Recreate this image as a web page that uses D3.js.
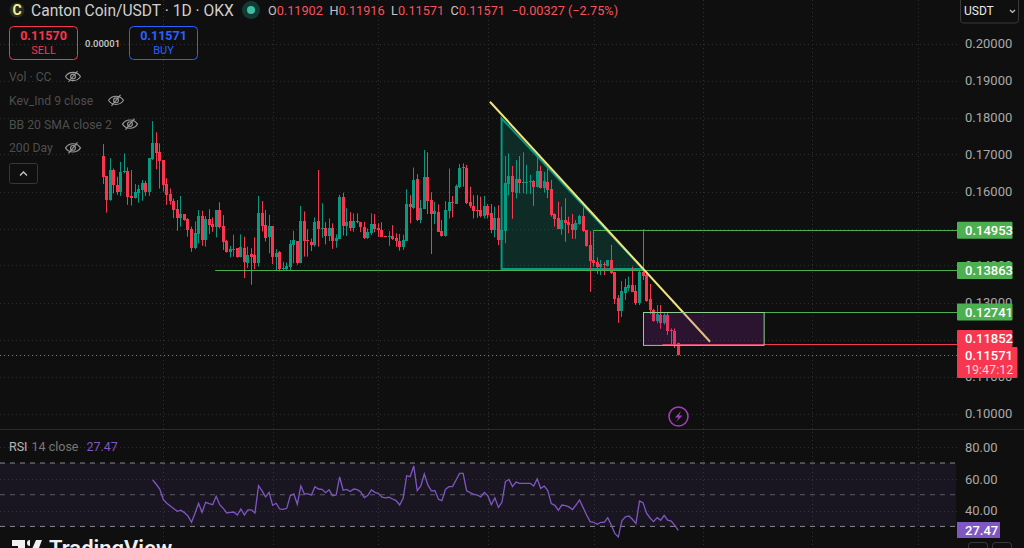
<!DOCTYPE html>
<html>
<head>
<meta charset="utf-8">
<title>Canton Coin/USDT</title>
<script src="https://cdn.jsdelivr.net/npm/d3@7"></script>
<style>
    html, body { margin: 0; padding: 0; background: #0f0f0f; overflow: hidden; }
    svg { display: block; font-family: Roboto, "Liberation Sans", sans-serif; }
</style>
</head>
<body>
<svg id="chart" width="1024" height="548"></svg>
<script>
// Daily candles
const opens = [.1696,.1642,.1577,.1658,.1618,.1597,.1652,.1655,.1588,.1582,.1596,.1604,.1622,.1597,.1688,.1732,.1706,.1685,.1620,.1593,
    .1574,.1553,.1528,.1539,.1526,.1498,.1447,.1485,.1534,.1469,.1526,.1512,.1503,.1550,.1507,.1466,.1437,.1442,.1447,.1423,
    .1447,.1407,.1431,.1429,.1407,.1543,.1510,.1477,.1507,.1423,.1437,.1391,.1391,.1396,.1456,.1466,.1407,.1520,.1469,.1464,
    .1455,.1520,.1499,.1501,.1480,.1501,.1466,.1472,.1586,.1507,.1520,.1501,.1520,.1518,.1504,.1474,.1488,.1512,.1501,.1496,
    .1480,.1477,.1480,.1474,.1466,.1450,.1466,.1566,.1555,.1634,.1523,.1553,.1639,.1577,.1539,.1545,.1493,.1480,.1547,.1572,
    .1566,.1612,.1666,.1663,.1572,.1561,.1550,.1550,.1534,.1561,.1542,.1496,.1528,.1469,.1493,.1620,.1642,.1596,.1634,.1623,
    .1624,.1626,.1628,.1612,.1655,.1610,.1626,.1607,.1539,.1528,.1499,.1523,.1518,.1512,.1496,.1512,.1534,.1496,.1456,.1415,
    .1410,.1396,.1404,.1399,.1415,.1383,.1312,.1277,.1326,.1339,.1347,.1331,.1299,.1383,.1375,.1310,.1280,.1250,.1266,.1245,
    .1266,.1226,.1223,.11902];
const highs = [.1728,.1642,.1690,.1662,.1640,.1680,.1703,.1665,.1658,.1620,.1618,.1631,.1629,.1690,.1790,.1760,.1730,.1685,.1636,.1608,
    .1581,.1577,.1588,.1539,.1528,.1505,.1519,.1550,.1548,.1534,.1552,.1530,.1550,.1571,.1536,.1469,.1453,.1483,.1447,.1484,
    .1478,.1451,.1447,.1476,.1588,.1574,.1550,.1537,.1507,.1444,.1439,.1410,.1408,.1469,.1494,.1466,.1561,.1546,.1498,.1473,
    .1530,.1658,.1568,.1517,.1527,.1514,.1484,.1591,.1597,.1555,.1544,.1541,.1541,.1518,.1518,.1500,.1541,.1539,.1514,.1517,
    .1480,.1493,.1509,.1487,.1485,.1483,.1606,.1590,.1665,.1647,.1577,.1712,.1706,.1598,.1572,.1565,.1523,.1574,.1662,.1588,
    .1619,.1674,.1676,.1672,.1613,.1590,.1590,.1586,.1588,.1566,.1566,.1559,.1563,.1496,.1696,.1703,.1669,.1685,.1696,.1706,
    .1672,.1645,.1631,.1696,.1669,.1653,.1663,.1631,.1541,.1572,.1559,.1582,.1532,.1539,.1523,.1537,.1557,.1496,.1493,.1496,
    .1422,.1415,.1410,.1415,.1456,.1383,.1320,.1358,.1364,.1370,.1397,.1347,.1392,.1498,.1383,.1350,.1283,.1293,.1293,.1271,
    .1274,.1230,.1230,.11916];
const lows = [.1620,.1543,.1575,.1595,.1591,.1588,.1649,.1564,.1562,.1581,.1570,.1575,.1588,.1588,.1685,.1660,.1608,.1600,.1564,.1564,
    .1528,.1494,.1505,.1521,.1478,.1437,.1444,.1460,.1453,.1451,.1485,.1491,.1476,.1500,.1442,.1435,.1422,.1424,.1421,.1422,
    .1366,.1393,.1348,.1390,.1397,.1492,.1465,.1433,.1404,.1385,.1384,.1385,.1385,.1385,.1406,.1402,.1406,.1424,.1424,.1439,
    .1451,.1451,.1475,.1457,.1466,.1445,.1448,.1472,.1481,.1480,.1493,.1491,.1514,.1490,.1472,.1472,.1482,.1490,.1477,.1477,
    .1477,.1453,.1469,.1451,.1440,.1442,.1466,.1514,.1553,.1520,.1514,.1553,.1539,.1431,.1512,.1491,.1478,.1478,.1527,.1530,
    .1566,.1609,.1613,.1566,.1555,.1527,.1529,.1530,.1527,.1527,.1487,.1476,.1455,.1463,.1460,.1590,.1526,.1581,.1595,.1595,
    .1593,.1593,.1561,.1611,.1608,.1597,.1582,.1532,.1505,.1498,.1483,.1464,.1487,.1472,.1472,.1510,.1491,.1451,.1329,.1397,
    .1377,.1374,.1374,.1397,.1377,.1296,.1245,.1261,.1307,.1330,.1328,.1293,.1293,.1361,.1302,.1269,.1248,.1244,.1229,.1240,
    .1212,.1185,.1177,.11571];
const closes = [.1640,.1577,.1658,.1618,.1598,.1652,.1655,.1586,.1583,.1598,.1607,.1622,.1597,.1690,.1732,.1705,.1682,.1618,.1591,.1573,
    .1550,.1528,.1539,.1523,.1496,.1447,.1487,.1534,.1469,.1526,.1510,.1503,.1550,.1503,.1465,.1437,.1445,.1445,.1423,.1450,
    .1408,.1429,.1423,.1407,.1543,.1507,.1476,.1507,.1423,.1434,.1391,.1393,.1399,.1458,.1469,.1407,.1520,.1466,.1466,.1455,
    .1517,.1499,.1501,.1480,.1501,.1466,.1474,.1586,.1507,.1517,.1501,.1520,.1518,.1504,.1474,.1491,.1512,.1499,.1496,.1477,
    .1477,.1480,.1472,.1466,.1450,.1469,.1566,.1559,.1631,.1523,.1555,.1639,.1574,.1539,.1547,.1491,.1480,.1550,.1572,.1569,
    .1615,.1663,.1663,.1569,.1561,.1547,.1547,.1534,.1561,.1537,.1496,.1528,.1469,.1496,.1623,.1642,.1599,.1634,.1623,.1625,
    .1626,.1628,.1612,.1655,.1609,.1628,.1604,.1537,.1526,.1499,.1523,.1515,.1510,.1496,.1515,.1534,.1493,.1453,.1412,.1407,
    .1396,.1404,.1401,.1415,.1380,.1310,.1277,.1331,.1342,.1347,.1329,.1299,.1383,.1372,.1304,.1280,.1250,.1269,.1245,.1266,
    .1223,.1223,.1188,.11571];

// RSI 14, first value belongs to candle rsiFirstBar
const rsiFirstBar = 14;
const rsiValues = [59.3,56.6,53.6,47.1,44.6,42.9,41.2,39.5,40.2,38.7,36.6,32.6,38.3,44.6,38.9,45.2,44.4,43.7,49.0,43.7,
    41.4,38.5,38.9,39.1,37.2,41.0,37.2,40.4,40.4,38.5,55.7,52.4,48.6,51.5,43.3,44.6,41.0,40.8,41.4,49.4,
    50.5,44.0,55.5,50.5,50.5,49.8,55.1,53.6,53.4,51.3,53.2,49.4,49.8,61.2,52.8,53.4,52.0,53.6,53.2,51.7,
    48.2,49.6,53.0,51.5,50.7,48.4,48.0,48.4,47.3,46.3,43.5,47.7,62.0,61.4,68.1,52.6,55.5,63.1,56.2,52.4,
    52.6,47.1,46.3,53.4,55.1,55.1,59.3,63.5,63.5,52.4,51.3,50.3,49.8,48.6,51.5,49.4,43.7,48.0,42.0,45.2,
    58.3,59.7,55.1,58.0,57.2,57.2,57.2,57.2,55.5,60.0,54.0,55.5,52.6,44.4,43.3,40.2,43.5,43.1,42.3,40.6,
    43.5,46.7,42.0,37.2,33.0,32.6,31.3,32.6,32.6,35.5,30.9,25.6,23.3,33.6,36.0,36.6,34.5,31.8,46.0,45.0,
    38.3,35.3,33.0,35.5,33.9,37.0,33.9,33.4,30.7,27.47];

// Axis ticks and labels
const priceTicks = [.10,.11,.12,.13,.14,.15,.16,.17,.18,.19,.20];
const rsiTicks = [40,60,80];
const rsiBands = [70,50,30];
const timeGridBars = [17,48,78,109,139,170,201,231];
const legendNames = ['Vol · CC','Kev_Ind 9 close','BB 20 SMA close 2','200 Day'];
const ohlcLegend = [['O','0.11902'],['H','0.11916'],['L','0.11571'],['C','0.11571']];

// Drawings on the chart: bar index and price
const triangleBars = [112.9,112.9,153];
const trianglePrices = [.1798,.13905,.13905];
const trendBars = [109.6,172];
const trendPrices = [.18427,.1194];
const boxBars = [153,187.2];
const boxPrices = [.12741,.11852];
const levelPrices = [.14953,.13863,.12741,.11852];
const levelStartBars = [139,31.7,187.2,158.5];
const levelColors = ['#4caf50','#4caf50','#4caf50','#f7374f'];
const levelLabels = ['0.14953','0.13863','0.12741','0.11852'];
const lastPrice = .11571;
const lastRsi = 27.47;

const plotRight = 957;
const svg = d3.select('#chart');

const x = d3.scaleLinear().domain([0, 163]).range([103.3, 678.3]);
const y = d3.scaleLinear().domain([.10, .20]).range([413.5, 43.5]);
const yRsi = d3.scaleLinear().domain([80, 30]).range([447.2, 526.4]);

const UP = '#089981';
const DOWN = '#f7374f';
const TICK = '#a9a9a9';

// Grid
const grid = svg.append('g').attr('stroke', '#2e2e2e').attr('stroke-dasharray', '1 3');
grid.selectAll('.tv').data(timeGridBars).enter().append('line')
    .attr('x1', d => Math.round(x(d)) + .5).attr('x2', d => Math.round(x(d)) + .5)
    .attr('y1', 0).attr('y2', 548);
grid.selectAll('.th').data(priceTicks).enter().append('line')
    .attr('x1', 0).attr('x2', plotRight)
    .attr('y1', d => Math.round(y(d)) + .5).attr('y2', d => Math.round(y(d)) + .5);
grid.selectAll('.tr').data(rsiTicks).enter().append('line')
    .attr('x1', 0).attr('x2', plotRight)
    .attr('y1', d => Math.round(yRsi(d)) + .5).attr('y2', d => Math.round(yRsi(d)) + .5);

// Pane separator
svg.append('line').attr('x1', 0).attr('x2', 1024).attr('y1', 429.5).attr('y2', 429.5)
    .attr('stroke', '#2b2b2b');

// Teal triangle goes under the candles
const triangle = triangleBars.map((b, i) => [x(b), y(trianglePrices[i])]);
svg.append('polygon')
    .attr('points', triangle.join(' '))
    .attr('fill', 'rgba(8,153,129,.2)')
    .attr('stroke', UP).attr('stroke-width', 2);

// Candles, snapped to whole pixels so wicks stay sharp
const bars = opens.map((o, i) => ({ i, o, h: highs[i], l: lows[i], c: closes[i] }));
const barColor = d => d.c >= d.o ? UP : DOWN;
const barX = i => Math.floor(x(i));
const candles = svg.append('g').selectAll('g').data(bars).enter().append('g');
candles.append('line')
    .attr('x1', d => barX(d.i) + .5).attr('x2', d => barX(d.i) + .5)
    .attr('y1', d => y(d.h)).attr('y2', d => y(d.l))
    .attr('stroke', barColor);
candles.append('rect')
    .attr('x', d => barX(d.i) - 1)
    .attr('width', 3)
    .attr('y', d => Math.round(y(Math.max(d.o, d.c))))
    .attr('height', d => Math.max(1, Math.round(Math.abs(y(d.o) - y(d.c)))))
    .attr('fill', barColor);

// Levels from the right edge
levelPrices.forEach((p, i) => {
    svg.append('line')
        .attr('x1', x(levelStartBars[i])).attr('x2', plotRight)
        .attr('y1', Math.floor(y(p)) + .5).attr('y2', Math.floor(y(p)) + .5)
        .attr('stroke', levelColors[i]);
});

// Yellow trend line, the box sits over its end
svg.append('line')
    .attr('x1', x(trendBars[0])).attr('y1', y(trendPrices[0]))
    .attr('x2', x(trendBars[1])).attr('y2', y(trendPrices[1]))
    .attr('stroke', '#f4e47a').attr('stroke-width', 2);

// Purple box
svg.append('rect')
    .attr('x', Math.floor(x(boxBars[0])) + .5).attr('width', x(boxBars[1]) - x(boxBars[0]))
    .attr('y', Math.floor(y(boxPrices[0])) + .5).attr('height', y(boxPrices[1]) - y(boxPrices[0]))
    .attr('fill', 'rgba(156,39,176,.2)')
    .attr('stroke', '#8fce8f');

// Last price dotted line
svg.append('line')
    .attr('x1', 0).attr('x2', plotRight)
    .attr('y1', Math.floor(y(lastPrice)) + .5).attr('y2', Math.floor(y(lastPrice)) + .5)
    .attr('stroke', DOWN).attr('stroke-dasharray', '1 3');

// Price axis
const priceAxis = d3.axisRight(y)
    .tickValues(priceTicks)
    .tickSize(0).tickPadding(0)
    .tickFormat(d3.format('.5f'));
const priceG = svg.append('g').attr('transform', 'translate(965,0)').call(priceAxis);
priceG.select('.domain').remove();
priceG.selectAll('text').attr('fill', TICK).attr('font-size', 13).attr('font-family', 'Roboto').attr('x', 0);

// Labels on the price axis
const labelY = [y(levelPrices[0]), y(levelPrices[1]), y(levelPrices[2]), 338.5];
levelLabels.forEach((t, i) => {
    svg.append('rect').attr('x', plotRight).attr('y', labelY[i] - 8.5)
        .attr('width', 55.5).attr('height', 17).attr('rx', 1)
        .attr('fill', levelColors[i]);
    svg.append('text').attr('x', 965).attr('y', labelY[i] + 4.5)
        .attr('fill', '#fff').attr('font-size', 13).attr('font-weight', 500).text(t);
});
svg.append('rect').attr('x', plotRight).attr('y', 347).attr('width', 60.5).attr('height', 31)
    .attr('rx', 1).attr('fill', DOWN);
svg.append('text').attr('x', 965).attr('y', 360)
    .attr('fill', '#fff').attr('font-size', 13).attr('font-weight', 500).text(d3.format('.5f')(lastPrice));
svg.append('text').attr('x', 965).attr('y', 374)
    .attr('fill', '#ffd0d6').attr('font-size', 12.5).text('19:47:12');

// RSI pane
svg.append('rect')
    .attr('x', 0).attr('width', plotRight - 1)
    .attr('y', yRsi(70)).attr('height', yRsi(30) - yRsi(70))
    .attr('fill', 'rgba(126,87,194,.1)');
svg.selectAll('.band').data(rsiBands).enter().append('line')
    .attr('x1', 0).attr('x2', plotRight - 1)
    .attr('y1', d => yRsi(d)).attr('y2', d => yRsi(d))
    .attr('stroke', d => d === 50 ? '#5a5a60' : '#8a8a92')
    .attr('stroke-dasharray', '5 5');

const rsiLine = d3.line()
    .x((d, i) => x(i + rsiFirstBar))
    .y(d => yRsi(d));
svg.append('path').datum(rsiValues)
    .attr('d', rsiLine)
    .attr('fill', 'none').attr('stroke', '#7e57c2').attr('stroke-width', 1.3);

const rsiAxis = d3.axisRight(yRsi)
    .tickValues(rsiTicks)
    .tickSize(0).tickPadding(0)
    .tickFormat(d3.format('.2f'));
const rsiG = svg.append('g').attr('transform', 'translate(965,0)').call(rsiAxis);
rsiG.select('.domain').remove();
rsiG.selectAll('text').attr('fill', TICK).attr('font-size', 13).attr('font-family', 'Roboto').attr('x', 0);

svg.append('rect').attr('x', plotRight).attr('y', 522).attr('width', 43).attr('height', 16)
    .attr('fill', '#7e57c2');
svg.append('text').attr('x', 965).attr('y', 534.5)
    .attr('fill', '#fff').attr('font-size', 13).attr('font-weight', 500).text(lastRsi);

// RSI legend
const rsiLegend = svg.append('text').attr('x', 9).attr('y', 451).attr('font-size', 12.5);
rsiLegend.append('tspan').attr('fill', '#b8b8b8').text('RSI');
rsiLegend.append('tspan').attr('fill', '#777').attr('dx', 4).text('14 close');
rsiLegend.append('tspan').attr('fill', '#7e57c2').attr('dx', 8).text(lastRsi);

// Header
svg.append('circle').attr('cx', 17).attr('cy', 10).attr('r', 7.5).attr('fill', '#2a2a20');
svg.append('text').attr('x', 17).attr('y', 15).attr('text-anchor', 'middle')
    .attr('fill', '#f2f08c').attr('font-size', 14).attr('font-weight', 700).text('C');
svg.append('text').attr('x', 31).attr('y', 16)
    .attr('fill', '#cfcfcf').attr('font-size', 15.6).text('Canton Coin/USDT · 1D · OKX');
svg.append('circle').attr('cx', 251).attr('cy', 10).attr('r', 9).attr('fill', '#123a34');
svg.append('circle').attr('cx', 251).attr('cy', 10).attr('r', 4).attr('fill', '#3dbfa5');

const ohlc = svg.append('text').attr('x', 268).attr('y', 15).attr('font-size', 12.7);
ohlcLegend.forEach((d, i) => {
    ohlc.append('tspan').attr('fill', '#c4c4c4').attr('dx', i ? 6.5 : 0).text(d[0]);
    ohlc.append('tspan').attr('fill', '#f7525f').text(d[1]);
});
ohlc.append('tspan').attr('fill', '#f7525f').attr('dx', 6.5).text('−0.00327 (−2.75%)');

// Sell and buy buttons
const tradeBox = (left, color, price, side) => {
    svg.append('rect').attr('x', left + .5).attr('y', 26.5).attr('width', 68).attr('height', 33).attr('rx', 4)
        .attr('fill', 'none').attr('stroke', color);
    svg.append('text').attr('x', left + 34.5).attr('y', 40).attr('text-anchor', 'middle')
        .attr('fill', color).attr('font-size', 12.5).attr('font-weight', 700).text(price);
    svg.append('text').attr('x', left + 34.5).attr('y', 54).attr('text-anchor', 'middle')
        .attr('fill', color).attr('font-size', 11).text(side);
};
tradeBox(9, '#f7374f', '0.11570', 'SELL');
tradeBox(129, '#2962ff', '0.11571', 'BUY');
svg.append('text').attr('x', 85).attr('y', 46.5).attr('fill', '#c8c8c8')
    .attr('font-size', 9.5).attr('font-weight', 500).text('0.00001');

// Hidden indicators list with crossed eyes
const eyeX = [73, 116, 130, 73];
const eyes = svg.append('g');
legendNames.forEach((name, i) => {
    const ly = 77 + i * 23.8;
    svg.append('text').attr('x', 9).attr('y', ly + 4).attr('fill', '#4e4e4e').attr('font-size', 12.2).text(name);
    const eye = eyes.append('g').attr('transform', `translate(${eyeX[i]},${ly - .5})`)
        .attr('fill', 'none').attr('stroke', '#9a9a9a').attr('stroke-width', 1.1);
    eye.append('path').attr('d', 'M-7.5,0C-4,-5.5 4,-5.5 7.5,0C4,5.5 -4,5.5 -7.5,0Z');
    eye.append('circle').attr('r', 2.4);
    eye.append('line').attr('x1', -4.5).attr('y1', 5.5).attr('x2', 4.5).attr('y2', -5.5);
});

// Collapse button
svg.append('rect').attr('x', 9.5).attr('y', 163.5).attr('width', 28).attr('height', 20).attr('rx', 2)
    .attr('fill', 'none').attr('stroke', '#363636');
svg.append('path').attr('d', 'M20,175.5L23.5,172L27,175.5')
    .attr('fill', 'none').attr('stroke', '#c8c8c8').attr('stroke-width', 1.3);

// Currency selector
svg.append('rect').attr('x', 960.5).attr('y', -4).attr('width', 58).attr('height', 27).attr('rx', 3)
    .attr('fill', 'none').attr('stroke', '#3a3a3a');
svg.append('text').attr('x', 964).attr('y', 15).attr('fill', '#e8e8e8').attr('font-size', 12).text('USDT');
svg.append('path').attr('d', 'M1010,10L1012.5,12.5L1015,10')
    .attr('fill', 'none').attr('stroke', '#c8c8c8').attr('stroke-width', 1.2);

// Lightning badge
svg.append('circle').attr('cx', 678.5).attr('cy', 416.5).attr('r', 9.5)
    .attr('fill', '#0f0f0f').attr('stroke', '#a23fb8').attr('stroke-width', 1.6);
svg.append('path').attr('d', 'M681,411L675,417.5H678.5L676,422L682.5,415.5H679Z').attr('fill', '#a23fb8');

// Scale buttons at the bottom right
svg.append('rect').attr('x', 968.5).attr('y', 542.5).attr('width', 19).attr('height', 12).attr('rx', 3)
    .attr('fill', 'none').attr('stroke', '#3a3a3a');
svg.append('rect').attr('x', 992.5).attr('y', 542.5).attr('width', 19).attr('height', 12).attr('rx', 3)
    .attr('fill', 'none').attr('stroke', '#3a3a3a');

// TradingView mark, cut by the window like in the original
svg.append('path').attr('d', 'M12,540H25V556H18V546H12Z M30,540A3,3 0 1 0 30.01,546Z M36,540H42L36,556H29Z').attr('fill', '#f0f0f0');
svg.append('text').attr('x', 49).attr('y', 556).attr('fill', '#f0f0f0')
    .attr('font-size', 22).attr('font-weight', 600).text('TradingView');
</script>
</body>
</html>
